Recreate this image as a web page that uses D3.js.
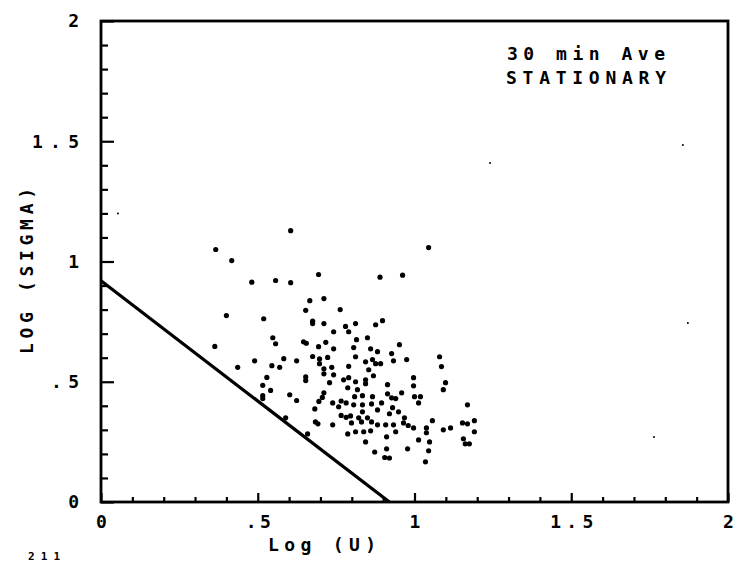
<!DOCTYPE html>
<html><head><meta charset="utf-8">
<script src="https://cdn.jsdelivr.net/npm/d3@7/dist/d3.min.js"></script>
<style>body{margin:0;background:#fff}svg{display:block}</style>
</head><body><svg id="c" width="738" height="565"></svg>
<script>
// ---- data ----
const logU = [0.605,0.366,0.417,0.481,0.557,0.605,0.694,0.666,0.711,0.653,0.763,0.400,0.519,0.675,0.675,0.711,0.742,0.548,0.363,0.557,0.646,0.655,0.694,0.717,0.742,0.436,0.490,0.545,0.570,0.583,0.624,0.675,0.697,0.697,0.723,0.711,0.736,0.790,0.529,0.653,0.653,0.711,0.742,0.774,0.729,0.787,0.516,0.541,0.516,0.602,0.624,0.711,0.706,0.695,0.739,0.766,0.782,0.682,0.758,0.766,0.782,0.684,0.692,0.739,0.787,0.589,0.659,0.516,1.045,0.962,0.890,0.780,0.812,0.876,0.898,0.790,0.815,0.806,0.812,0.850,0.860,0.882,0.927,0.952,0.933,0.975,0.844,0.866,0.876,0.892,0.790,0.854,0.869,0.812,0.844,0.844,0.914,0.997,0.997,0.959,0.914,0.927,0.940,0.818,0.834,0.809,0.866,1.000,1.019,1.013,0.895,0.806,0.834,0.863,0.930,0.882,0.796,0.822,0.834,0.920,0.949,0.968,0.850,0.799,0.831,0.863,0.882,0.908,0.933,0.965,0.980,0.997,1.038,1.038,0.812,0.838,0.860,0.940,0.911,1.013,0.844,1.048,0.873,0.911,0.978,0.905,0.920,1.045,1.080,1.086,1.099,1.092,1.169,1.057,1.092,1.115,1.153,1.169,1.191,1.191,1.156,1.162,1.175,1.035];
const logSigma = [1.128,1.050,1.004,0.914,0.921,0.912,0.946,0.837,0.846,0.797,0.800,0.775,0.762,0.742,0.752,0.742,0.708,0.683,0.647,0.658,0.666,0.660,0.646,0.664,0.637,0.560,0.587,0.567,0.560,0.596,0.587,0.605,0.595,0.575,0.601,0.554,0.560,0.564,0.518,0.520,0.505,0.533,0.529,0.508,0.496,0.475,0.485,0.464,0.442,0.446,0.422,0.454,0.435,0.418,0.412,0.420,0.412,0.387,0.396,0.360,0.352,0.333,0.325,0.321,0.283,0.350,0.283,0.430,1.058,0.943,0.935,0.730,0.742,0.737,0.754,0.708,0.675,0.642,0.604,0.683,0.637,0.625,0.617,0.654,0.587,0.592,0.583,0.592,0.575,0.575,0.517,0.550,0.525,0.500,0.508,0.492,0.488,0.517,0.483,0.454,0.450,0.433,0.430,0.467,0.442,0.438,0.438,0.438,0.438,0.412,0.412,0.404,0.404,0.408,0.392,0.383,0.358,0.350,0.375,0.367,0.375,0.350,0.350,0.329,0.333,0.333,0.321,0.321,0.321,0.329,0.318,0.308,0.308,0.288,0.292,0.292,0.296,0.292,0.271,0.258,0.250,0.250,0.208,0.221,0.221,0.185,0.183,0.213,0.604,0.563,0.496,0.467,0.404,0.338,0.300,0.308,0.329,0.325,0.338,0.292,0.263,0.242,0.242,0.167];
// faint isolated specks
const speckU = [1.872, 1.764, 1.856, 1.241, 0.054];
const speckSigma = [0.744, 0.270, 1.484, 1.410, 1.200];
// boundary line
const lineU = [0, 0.92];
const lineSigma = [0.92, 0];
// axes
const majorTicks = [0, 0.5, 1, 1.5, 2];
const tickLabels = ["0", ".5", "1", "1.5", "2"];
const minorTicks = [0.1,0.2,0.3,0.4,0.6,0.7,0.8,0.9,1.1,1.2,1.3,1.4,1.6,1.7,1.8,1.9];
const xTitle = "Log (U)";
const yTitle = "LOG (SIGMA)";
const noteLines = ["30 min Ave", "STATIONARY"];
const pageNo = "211";

// ---- drawing ----
const svg = d3.select("#c");
const FONT = "'DejaVu Sans Mono', monospace";
const FS = "18px";
const x = d3.scaleLinear().domain([0, 2]).range([101, 728]);
const y = d3.scaleLinear().domain([0, 2]).range([502, 21]);
const lbl = d => tickLabels[majorTicks.indexOf(d)];

function styleAxis(g) {
  g.select(".domain").remove();
  g.selectAll(".tick line").attr("stroke", "#000").attr("stroke-width", 2.2);
  g.selectAll("text").attr("fill", "#000").style("font-family", FONT)
    .style("font-weight", "bold").style("font-size", FS);
}

// x axis
svg.append("g").attr("transform", `translate(0,${y(0)})`)
  .call(d3.axisBottom(x).tickValues(minorTicks).tickSize(-5).tickSizeOuter(0).tickFormat(""))
  .call(styleAxis);
const gx = svg.append("g").attr("transform", `translate(0,${y(0)})`)
  .call(d3.axisBottom(x).tickValues(majorTicks).tickSize(-9).tickSizeOuter(0).tickPadding(13).tickFormat(lbl))
  .call(styleAxis);
gx.selectAll("text").filter(d => d === 1.5).attr("textLength", 43).attr("lengthAdjust", "spacing");
gx.selectAll("text").filter(d => d === 0.5).attr("textLength", 25).attr("lengthAdjust", "spacing");

// y axis
svg.append("g").attr("transform", `translate(${x(0)},0)`)
  .call(d3.axisLeft(y).tickValues(minorTicks).tickSize(-7).tickSizeOuter(0).tickFormat(""))
  .call(styleAxis);
const gy = svg.append("g").attr("transform", `translate(${x(0)},0)`)
  .call(d3.axisLeft(y).tickValues(majorTicks).tickSize(-13).tickSizeOuter(0).tickPadding(22).tickFormat(lbl))
  .call(styleAxis);
gy.selectAll("text").filter(d => d === 1.5).attr("textLength", 47).attr("lengthAdjust", "spacing");
gy.selectAll("text").filter(d => d === 0.5).attr("textLength", 28).attr("lengthAdjust", "spacing");

// frame
svg.append("rect").attr("x", x(0)).attr("y", y(2))
  .attr("width", x(2) - x(0)).attr("height", y(0) - y(2))
  .attr("fill", "none").attr("stroke", "#000").attr("stroke-width", 2.8);

// boundary line
svg.append("path")
  .attr("d", d3.line().x((d, i) => x(lineU[i])).y((d, i) => y(lineSigma[i]))(lineU))
  .attr("stroke", "#000").attr("stroke-width", 3.2).attr("fill", "none");

// points
svg.append("g").selectAll("circle").data(logU).join("circle")
  .attr("cx", d => x(d)).attr("cy", (d, i) => y(logSigma[i])).attr("r", 2.6).attr("fill", "#000");
svg.append("g").selectAll("circle").data(speckU).join("circle")
  .attr("cx", d => x(d)).attr("cy", (d, i) => y(speckSigma[i])).attr("r", 1).attr("fill", "#000");

// texts
const T = (s, px, py, len, fs) => svg.append("text").text(s).attr("x", px).attr("y", py)
  .attr("textLength", len).attr("lengthAdjust", "spacing")
  .style("font-family", FONT).style("font-weight", "bold").style("font-size", fs || FS).attr("fill", "#000");
T(noteLines[0], 507, 60, 158);
T(noteLines[1], 506, 84, 160);
T(xTitle, 268, 551, 108);
T(pageNo, 28, 560, 32, "11px");
svg.append("text").text(yTitle)
  .attr("transform", "translate(33,354) rotate(-90)")
  .attr("textLength", 166).attr("lengthAdjust", "spacing")
  .style("font-family", FONT).style("font-weight", "bold").style("font-size", FS).attr("fill", "#000");
</script></body></html>
